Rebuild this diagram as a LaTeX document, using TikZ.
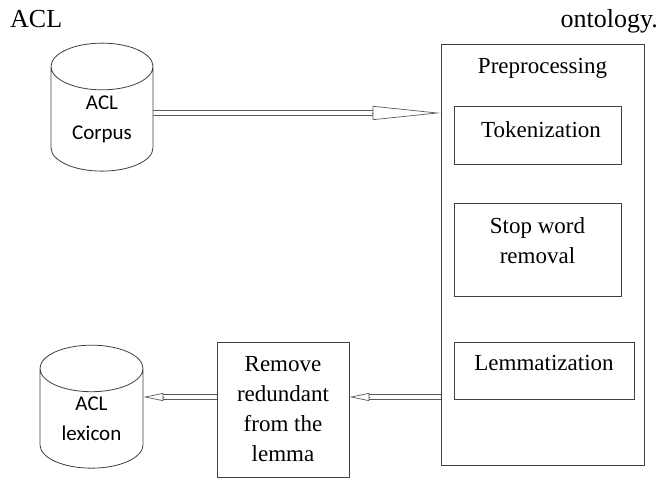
\documentclass[tikz,border=0pt]{standalone}
\usepackage{fontspec}
\setmainfont{Liberation Serif}
\newfontfamily\dbfont{Carlito}
\usetikzlibrary{arrows.meta, positioning, shapes.geometric}

\begin{document}
\begin{tikzpicture}[x=1pt, y=-1pt,
  every node/.style={font=\fontsize{23}{30}\selectfont},
  stage/.style={draw=black!75, line width=0.8pt, inner sep=0pt, align=center},
  db/.style={cylinder, shape border rotate=90, draw=black!75, line width=0.8pt, aspect=0.78, inner sep=0pt, align=center, font=\dbfont\fontsize{21}{30}\selectfont},
  rail/.style={draw=black!65, line width=0.7pt, transform canvas={yshift=#1}},
  bighead/.style={draw=black!65, line width=0.7pt, -{Triangle[open, length=68pt, width=14pt]}},
  smallhead/.style={draw=black!65, line width=0.7pt, -{Triangle[open, length=20pt, width=8pt]}}]

\useasboundingbox (0,0) rectangle (660,479);

% Heading words
\node[anchor=base west, inner sep=0pt, font=\fontsize{26}{30}\selectfont] (acl) at (10,27) {ACL};
\node[anchor=base east, inner sep=0pt, font=\fontsize{26}{30}\selectfont] (onto) at (658,27) {ontology.};

% Stores
\node[db, minimum width=102pt, minimum height=128pt] (corpus) at (102,119) {ACL\\Corpus};
\node[db, minimum width=103pt, minimum height=123pt] (lexicon) at (91.5,418.5) {ACL\\lexicon};

% Preprocessing block
\node[stage, minimum width=203pt, text height=29pt, text depth=392pt] (prep) at (542.5,254.5) {Preprocessing};
\node[stage, minimum width=167pt, text height=31pt, text depth=27pt] (tok) at (537.5,135) {\hspace*{7pt}Tokenization};
\node[stage, minimum width=167pt, text height=60pt, text depth=33pt] (stop) at (537.5,249.5) {Stop word\\removal};
\node[stage, minimum width=180pt, text height=28pt, text depth=29pt] (lem) at (544,370.5) {Lemmatization};

% Cleaning step
\node[stage, minimum width=132pt, minimum height=135pt] (remove) at (283,409.5) {Remove\\redundant\\from the\\lemma};

% Flow ends
\coordinate (out1) at ([yshift=6pt]corpus.east);
\coordinate (in1) at (out1 -| prep.west);
\coordinate (in2) at ([yshift=12.5pt]remove.east);
\coordinate (out3) at ([yshift=12.5pt]remove.west);
\coordinate (in3) at (out3 -| lexicon.east);

% Flows (double rails, open heads)
\draw[rail=2.5pt] (out1) -- ([xshift=-68pt]in1);
\draw[rail=-2.5pt] (out1) -- ([xshift=-68pt]in1);
\draw[bighead] ([xshift=-69pt]in1) -- (in1);
\draw[rail=2.2pt] (in2 -| prep.west) -- ([xshift=20pt]in2);
\draw[rail=-2.2pt] (in2 -| prep.west) -- ([xshift=20pt]in2);
\draw[smallhead] ([xshift=21pt]in2) -- (in2);
\draw[rail=2.2pt] (out3) -- ([xshift=20pt]in3);
\draw[rail=-2.2pt] (out3) -- ([xshift=20pt]in3);
\draw[smallhead] ([xshift=21pt]in3) -- (in3);

\end{tikzpicture}
\end{document}
